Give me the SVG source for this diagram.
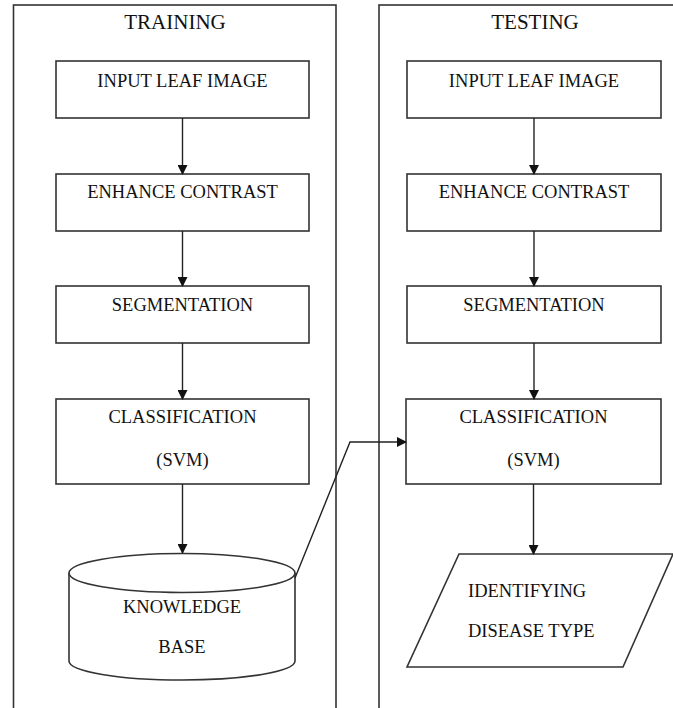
<svg xmlns="http://www.w3.org/2000/svg" width="673" height="708" viewBox="0 0 673 708">
<style>
.s{fill:#fff;stroke:#333;stroke-width:1.6}
.p{fill:none;stroke:#333;stroke-width:1.6}
.t{font-family:"Liberation Serif","Times New Roman",serif;font-size:18.5px;fill:#111;text-anchor:middle}
.h{font-family:"Liberation Serif","Times New Roman",serif;font-size:21px;fill:#111;text-anchor:middle}
.c{fill:none;stroke:#222;stroke-width:1.4}
</style>
<defs>
<marker id="a" markerWidth="10" markerHeight="10" refX="9" refY="5" orient="auto" markerUnits="userSpaceOnUse">
<path d="M0,0 L10,5 L0,10 z" fill="#111"/>
</marker>
</defs>
<rect width="673" height="708" fill="#fff"/>
<g id="training">
<rect class="p" x="13.5" y="5" width="322.5" height="720"/>
<text class="h" x="175" y="29">TRAINING</text>
</g>
<g id="testing">
<rect class="p" x="379" y="5" width="320" height="720"/>
<text class="h" x="535" y="29">TESTING</text>
</g>
<g id="tr-input">
<rect class="s" x="56" y="61" width="253" height="57"/>
<text class="t" x="182.5" y="87">INPUT LEAF IMAGE</text>
</g>
<g id="tr-enhance">
<rect class="s" x="56" y="174" width="253" height="57"/>
<text class="t" x="182.5" y="198">ENHANCE CONTRAST</text>
</g>
<g id="tr-seg">
<rect class="s" x="56" y="286" width="253" height="57"/>
<text class="t" x="182.5" y="311">SEGMENTATION</text>
</g>
<g id="tr-class">
<rect class="s" x="56" y="399" width="253" height="85"/>
<text class="t" x="182.5" y="423">CLASSIFICATION</text>
<text class="t" x="182.5" y="466">(SVM)</text>
</g>
<g id="kb">
<path class="s" d="M69,573 L69,661 A113,19 0 0 0 295,661 L295,573"/>
<ellipse class="s" cx="182" cy="573" rx="113" ry="19.5"/>
<text class="t" x="182" y="613">KNOWLEDGE</text>
<text class="t" x="182" y="653">BASE</text>
</g>
<g id="te-input">
<rect class="s" x="407" y="61" width="254" height="57"/>
<text class="t" x="534" y="87">INPUT LEAF IMAGE</text>
</g>
<g id="te-enhance">
<rect class="s" x="407" y="174" width="254" height="57"/>
<text class="t" x="534" y="198">ENHANCE CONTRAST</text>
</g>
<g id="te-seg">
<rect class="s" x="407" y="286" width="254" height="57"/>
<text class="t" x="534" y="311">SEGMENTATION</text>
</g>
<g id="te-class">
<rect class="s" x="406" y="399" width="255" height="85"/>
<text class="t" x="533.5" y="423">CLASSIFICATION</text>
<text class="t" x="533.5" y="466">(SVM)</text>
</g>
<g id="disease">
<polygon class="s" points="459,554 673,554 623,667 407,667"/>
<text class="t" x="468" y="597" style="text-anchor:start">IDENTIFYING</text>
<text class="t" x="468" y="637" style="text-anchor:start">DISEASE TYPE</text>
</g>
<g id="connectors">
<line class="c" x1="182.5" y1="118" x2="182.5" y2="174" marker-end="url(#a)"/>
<line class="c" x1="182.5" y1="231" x2="182.5" y2="286" marker-end="url(#a)"/>
<line class="c" x1="182.5" y1="343" x2="182.5" y2="399" marker-end="url(#a)"/>
<line class="c" x1="182.5" y1="484" x2="182.5" y2="553" marker-end="url(#a)"/>
<line class="c" x1="534" y1="118" x2="534" y2="174" marker-end="url(#a)"/>
<line class="c" x1="534" y1="231" x2="534" y2="286" marker-end="url(#a)"/>
<line class="c" x1="534" y1="343" x2="534" y2="399" marker-end="url(#a)"/>
<line class="c" x1="533.5" y1="484" x2="533.5" y2="554" marker-end="url(#a)"/>
<polyline class="c" points="295,578 350,442 406,442" marker-end="url(#a)"/>
</g>
</svg>
